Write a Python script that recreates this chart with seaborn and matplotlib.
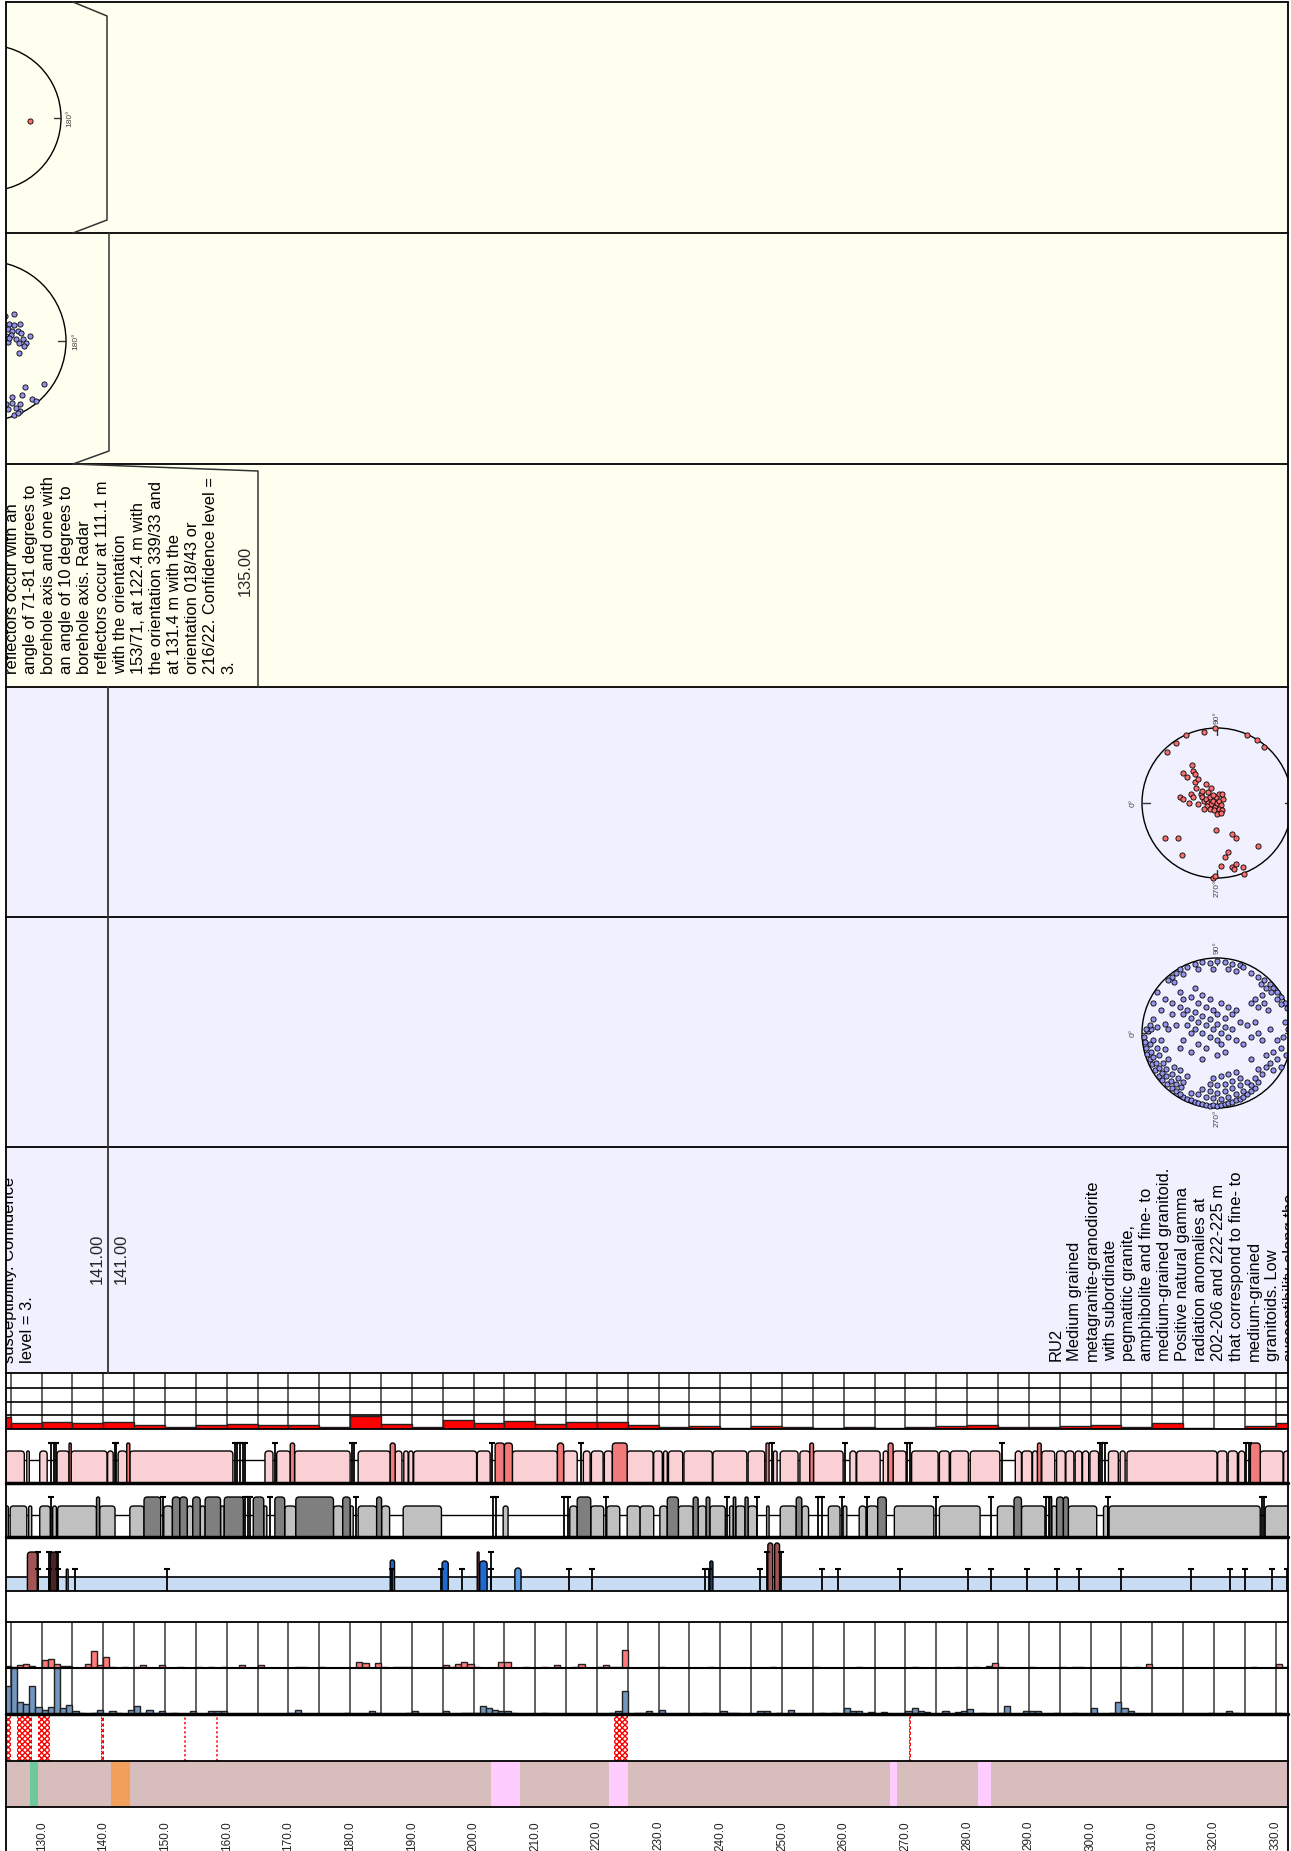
import numpy as np
import pandas as pd
import matplotlib.pyplot as plt
import seaborn as sns
from matplotlib.patches import FancyBboxPatch, Circle, Rectangle

W, H = 1291, 1851
D0, D1 = 124.23, 332.0
PXM = (1288 - 6) / (D1 - D0)

depth_ticks = list(range(130, 331, 10))

panel3_lines = ["reflectors occur with an", "angle of 71-81 degrees to", "borehole axis and one with",
                "an angle of 10 degrees to", "borehole axis. Radar", "reflectors occur at 111.1 m",
                "with the orientation", "153/71, at 122.4 m with", "the orientation 339/33 and",
                "at 131.4 m with the", "orientation 018/43 or", "216/22. Confidence level =", "3."]
panel6_left = ["susceptibility. Confidence", "level = 3."]
ru2_lines = ["RU2", "Medium grained", "metagranite-granodiorite", "with subordinate",
             "pegmatitic granite,", "amphibolite and fine- to", "medium-grained granitoid.",
             "Positive natural gamma", "radiation anomalies at", "202-206 and 222-225 m",
             "that correspond to fine- to", "medium-grained", "granitoids. Low",
             "susceptibility along the"]

# 5 m interval bars (top grid track)
grid_start = list(range(120, 331, 5))
grid_vals = [12, 6, 7, 6, 7, 4, 2, 4, 5, 4, 4, 2, 13, 5, 2, 9, 6, 8, 5, 7, 7, 4, 2, 3, 1, 3,
             2, 1, 2, 1, 2, 3, 4, 2, 2, 3, 4, 2, 6, 1, 0.5, 3, 6]

# fracture class boxes, pink track
pink_boxes = [(124.2, 127.2), (127.6, 128.0), (129.7, 130.9), (132.5, 134.45), (134.8, 140.6),
              (140.7, 141.6), (142.4, 143.8), (144.3, 161.0), (166.2, 167.5), (168.1, 170.3),
              (171.0, 180.0), (181.3, 186.5), (187.3, 188.4), (188.7, 189.4), (189.5, 190.2),
              (190.3, 200.5), (200.6, 202.7), (206.3, 213.6), (214.6, 216.8), (217.8, 218.9),
              (219.1, 221.0), (221.2, 222.5), (224.9, 229.1), (229.2, 230.6), (230.8, 231.4),
              (231.6, 233.9), (234.1, 238.7), (238.8, 244.3), (244.5, 247.2), (248.6, 249.2),
              (249.7, 252.6), (252.9, 254.5), (255.1, 259.9), (261.0, 262.0), (262.1, 265.9),
              (266.4, 267.2), (268.0, 270.1), (271.0, 275.3), (275.5, 277.1), (277.3, 280.2),
              (280.5, 285.3), (287.8, 288.8), (288.9, 290.5), (290.6, 291.4), (292.1, 294.2),
              (294.5, 295.9), (296.0, 297.3), (297.5, 298.6), (298.7, 299.7), (299.9, 301.3),
              (302.9, 304.5), (304.8, 305.6), (305.9, 320.5), (320.6, 322.1), (322.3, 323.8),
              (324.0, 325.0), (327.5, 331.2), (331.3, 332.5)]
salmon_boxes = [(134.45, 134.8), (143.8, 144.3), (170.3, 171.0), (186.5, 187.3), (203.5, 205.0),
                (205.0, 206.3), (213.6, 214.6), (222.5, 224.9), (247.4, 247.9), (254.5, 255.1),
                (267.2, 268.0), (291.4, 292.0), (325.9, 327.5)]
pink_T = [131.6, 132.0, 132.3, 141.9, 142.1, 161.3, 161.7, 162.2, 162.6, 163.0, 167.8, 180.3,
          180.7, 203.0, 217.4, 248.3, 260.2, 270.3, 270.8, 285.7, 301.5, 301.9, 302.4, 325.2, 325.6]

# grey track
light_boxes = [(124.2, 124.6), (124.9, 127.6), (127.9, 128.4), (129.7, 131.4), (131.8, 132.4),
               (132.6, 138.9), (139.4, 141.9), (144.3, 146.6), (149.8, 151.2), (153.6, 154.5),
               (155.7, 156.5), (159.0, 159.6), (166.0, 166.5), (169.4, 171.2), (177.3, 178.8),
               (180.0, 180.5), (181.3, 184.3), (185.1, 186.4), (188.6, 194.8), (204.8, 205.6),
               (215.6, 216.8), (219.0, 221.1), (221.6, 223.7), (224.9, 227.0), (227.0, 229.2),
               (230.2, 231.4), (233.2, 235.6), (236.4, 237.7), (238.3, 240.8), (241.5, 242.1),
               (242.5, 244.0), (244.5, 245.9), (247.5, 247.9), (249.7, 252.3), (253.2, 254.3),
               (257.5, 259.4), (259.9, 260.5), (262.5, 263.6), (263.8, 265.5), (268.2, 274.6),
               (275.5, 282.1), (284.9, 287.6), (288.8, 292.6), (293.7, 294.5), (296.4, 301.0),
               (302.1, 302.8), (303.0, 327.5), (328.3, 332.5)]
dark_boxes = [(138.9, 139.4), (146.6, 149.3), (151.2, 152.4), (152.4, 153.6), (154.5, 155.7),
              (156.5, 159.0), (159.6, 162.7), (164.3, 166.0), (167.8, 169.4), (171.2, 177.3),
              (178.8, 180.0), (184.3, 185.1), (216.8, 219.0), (231.4, 233.2), (235.6, 236.4),
              (237.7, 238.3), (242.1, 242.5), (244.0, 244.5), (252.3, 253.2), (265.5, 266.9),
              (287.6, 288.8), (293.4, 293.7), (294.5, 295.6), (295.6, 296.4)]
gray_T = [131.6, 149.6, 163.0, 163.4, 163.8, 167.0, 180.9, 203.2, 203.6, 214.6, 215.3, 221.4,
          241.1, 246.0, 255.9, 256.4, 259.7, 263.7, 275.0, 283.8, 292.8, 293.2, 302.9, 327.8, 328.1]

# blue track spikes: start, end, height, kind
spike_start = [127.7, 131.4, 134.0, 186.5, 194.9, 200.6, 201.0, 206.7, 238.3, 247.7, 248.8]
spike_end = [129.3, 132.5, 134.3, 187.2, 195.9, 200.9, 202.2, 207.7, 238.8, 248.5, 249.6]
spike_height = [39, 39, 22, 31, 30, 39, 30, 23, 30, 48, 48]
spike_kind = ["brown", "darkbrown", "lightblue", "blue", "blue", "brown", "blue", "lightblue",
              "navy", "brown", "brown"]
blue_T = [129.4, 131.2, 132.7, 135.4, 150.3, 186.8, 194.8, 198.1, 202.8, 215.4, 219.2, 237.5,
          238.1, 246.4, 256.5, 259.0, 269.1, 280.1, 283.9, 289.7, 294.6, 298.1, 305.0, 316.3,
          322.6, 325.0, 329.4, 331.8]
blue_T_tall = [129.4, 131.2, 132.7, 202.8, 247.5, 249.8]

# 1 m histograms
redh_depth = [124, 125, 126, 127, 128, 130, 131, 132, 133, 134, 137, 138, 139, 140, 141, 143, 145,
              146, 149, 152, 155, 157, 159, 162, 165, 171, 172, 175, 181, 182, 184, 185, 187, 188,
              189, 195, 196, 197, 198, 199, 200, 204, 205, 208, 211, 213, 216, 217, 220, 221, 222,
              223, 224, 230, 238, 248, 255, 262, 271, 278, 281, 283, 284, 285, 290, 295, 297, 298,
              305, 307, 309, 326, 330, 331]
redh_count = [2, 1, 3, 4, 2, 8, 9, 4, 2, 2, 4, 17, 3, 11, 1, 1, 1, 3, 3, 1, 1, 1, 1, 3, 3, 1, 1,
              1, 6, 5, 5, 1, 1, 1, 1, 3, 1, 4, 6, 4, 1, 6, 6, 1, 1, 3, 1, 4, 1, 3, 1, 1, 18, 1, 1,
              1, 1, 1, 1, 1, 1, 2, 5, 1, 1, 1, 1, 1, 1, 1, 4, 1, 4, 1]
blueh_depth = [124, 125, 126, 127, 128, 129, 130, 131, 132, 133, 134, 135, 136, 138, 139, 141,
               142, 144, 145, 146, 147, 148, 149, 151, 154, 157, 158, 159, 170, 171, 179, 183,
               184, 189, 190, 195, 198, 199, 200, 201, 202, 203, 204, 205, 206, 211, 222, 223,
               224, 226, 227, 228, 230, 237, 240, 241, 242, 246, 247, 249, 251, 256, 258, 260,
               261, 262, 264, 266, 270, 271, 272, 273, 276, 278, 279, 280, 282, 285, 286, 289,
               290, 291, 294, 297, 300, 303, 304, 305, 306, 319, 322, 323, 330]
blueh_count = [28, 46, 12, 10, 28, 7, 4, 7, 46, 6, 9, 3, 1, 1, 4, 3, 1, 4, 8, 1, 4, 1, 3, 1, 3,
               3, 3, 3, 1, 4, 1, 3, 1, 1, 3, 3, 1, 1, 1, 8, 6, 4, 3, 3, 1, 1, 1, 3, 23, 1, 1, 3,
               4, 1, 3, 1, 1, 3, 3, 1, 4, 1, 1, 6, 3, 3, 2, 2, 3, 6, 3, 2, 3, 2, 3, 5, 1, 1, 8,
               3, 3, 3, 1, 1, 6, 1, 12, 6, 3, 1, 3, 1, 1]

hatch_spans = [(124.2, 125.1), (126.0, 128.5), (129.4, 131.4), (222.8, 225.0)]
zigzag_lines = [139.9, 270.7]
dotted_lines = [153.2, 158.5]

rock_bands = [(128.1, 129.4, "green"), (141.2, 144.3, "orange"), (202.8, 207.6, "pink"),
              (222.0, 225.0, "pink"), (267.5, 268.6, "pink"), (281.8, 283.8, "pink")]

# stereonet poles, percent of net radius (x right, y up)
net1_pts = [(58, -4)]
net2_pts = [(24, 31), (35, 34), (29, 21), (35, 20), (42, 21), (27, 15), (33, 13), (40, 13), (44, 10),
            (25, 6), (31, 7), (38, 2), (46, 2), (50, -2), (27, -1), (41, -2), (55, 6), (41, -15),
            (47, -6), (29, 4), (73, -54), (49, -58), (45, -67), (33, -70), (58, -72), (63, -75),
            (25, -79), (33, -77), (43, -79), (38, -84), (43, -87), (35, -92), (40, -90), (28, -85)]
net4_pts = [(-45, 40), (-40, 35), (-32, 42), (-30, 28), (-28, 20), (-25, 32), (-22, 12), (-20, 8),
            (-18, 3), (-15, 5), (-12, 0), (-10, 8), (-8, -2), (-5, 3), (-3, -5), (0, 0), (3, 2),
            (5, -3), (8, 5), (-2, 8), (-6, 10), (-14, -4), (-10, -8), (-4, -10), (2, -8), (6, -10),
            (-12, 14), (-20, 16), (-35, 12), (-50, 8), (-45, 5), (-38, 0), (-32, 8), (-26, -2),
            (-18, -8), (0, -15), (5, -14), (2, 12), (7, 12), (-8, 20), (-15, 25), (-33, 50),
            (-30, 38), (-3, 100), (-42, 91), (-55, 80), (-67, 68), (40, 91), (53, 84), (63, 75),
            (-17, 95), (-70, -47), (-52, -47), (-47, -70), (-2, -36), (20, -42), (25, -47),
            (15, -65), (10, -72), (5, -84), (20, -85), (25, -82), (22, -88), (35, -85), (36, -95),
            (-5, -100), (55, -57), (-3, -98)]
net5_pts = [(-45, -85), (-40, -88), (-35, -90), (-30, -92), (-25, -93), (-20, -95), (-15, -96),
            (-10, -97), (-5, -96), (0, -97), (5, -96), (10, -95), (15, -94), (20, -92), (25, -90),
            (30, -88), (35, -85), (40, -82), (45, -78), (50, -74), (-35, -80), (-25, -82),
            (-15, -85), (-5, -87), (5, -88), (15, -85), (25, -82), (35, -78), (45, -70), (55, -66),
            (-20, -75), (-10, -78), (0, -80), (10, -78), (20, -74), (30, -70), (40, -66), (50, -60),
            (-10, -68), (0, -70), (10, -68), (20, -64), (30, -60), (15, -55), (5, -58), (25, -52),
            (-5, -60), (60, -55), (65, -45), (55, -48), (-97, -5), (-96, -12), (-95, -20),
            (-93, -28), (-90, -35), (-87, -42), (-83, -50), (-78, -57), (-73, -63), (-67, -68),
            (-60, -73), (-55, -78), (-50, -82), (-90, -15), (-88, -25), (-85, -32), (-82, -40),
            (-78, -47), (-73, -53), (-68, -58), (-62, -64), (-55, -68), (-48, -72), (-85, -10),
            (-80, -20), (-78, -30), (-72, -40), (-68, -48), (-60, -55), (-52, -60), (-45, -65),
            (-75, -10), (-70, -22), (-65, -35), (-58, -45), (-50, -50), (-40, -58), (-92, 2),
            (-88, 5), (-95, 5), (-90, 10), (-85, 18), (-80, 8), (-70, 12), (-75, 30), (-60, 25),
            (-65, 5), (-50, 35), (-45, 25), (-40, 30), (-35, 20), (-30, 28), (-25, 15), (-20, 22),
            (-15, 10), (-10, 18), (-5, 5), (0, 12), (5, 0), (10, 8), (15, -5), (20, 5), (25, -10),
            (-30, 5), (-20, 0), (-10, -5), (0, -10), (-40, 10), (-35, 0), (-25, -15), (-15, -20),
            (5, -15), (10, 20), (-5, 30), (-15, 35), (-25, 40), (0, 25), (20, 25), (25, 30),
            (30, 15), (-45, 45), (-35, 48), (-20, 50), (-10, 45), (5, 40), (15, 35), (-50, 55),
            (-30, 60), (0, -30), (-20, -35), (-35, -25), (-45, -10), (10, -25), (45, 80), (55, 75),
            (62, 70), (70, 65), (75, 60), (80, 55), (85, 48), (90, 40), (93, 33), (72, 55),
            (65, 60), (58, 65), (80, 45), (85, 38), (60, 50), (50, 45), (45, 40), (55, 35),
            (62, 40), (68, 30), (-50, 85), (-55, 80), (-45, 78), (-40, 88), (-30, 92), (-20, 95),
            (-10, 93), (0, 96), (10, 95), (20, 92), (30, 90), (-25, 85), (-5, 85), (15, 85),
            (25, 82), (35, 88), (-60, 75), (-65, 70), (-58, 68), (-80, 55), (-85, 40), (90, 15),
            (95, 5), (88, -5), (80, -10), (85, -20), (75, -25), (92, -30), (70, -40), (65, -30),
            (80, -35), (60, -10), (70, 5), (55, 0), (45, -5), (40, 10), (50, 15), (35, -15),
            (45, -35), (75, -50), (85, -45), (-60, 40), (-70, 45), (-55, 10), (-50, -20)]

# ---------------- drawing ----------------
sns.set_style("white")
plt.rcParams["font.family"] = ["Liberation Sans", "DejaVu Sans"]
plt.rcParams["hatch.linewidth"] = 1.0
plt.rcParams["hatch.color"] = "red"

fig = plt.figure(figsize=(W / 100, H / 100), dpi=100)


def px_axes(x0, y0, x1, y1, z=1):
    return fig.add_axes([x0 / W, 1 - y1 / H, (x1 - x0) / W, (y1 - y0) / H], zorder=z)


# text / stereonet panels
panels = [(2, 233, "#FFFFF0"), (233, 464, "#FFFFF0"), (464, 687, "#FFFFF0"),
          (687, 917, "#F0F0FE"), (917, 1147, "#F0F0FE"), (1147, 1373, "#F0F0FE")]
pax = []
for y0, y1, c in panels:
    ax = px_axes(6, y0, 1288, y1, z=0)
    ax.set_xlim(6, 1288)
    ax.set_ylim(y1, y0)
    ax.set_facecolor(c)
    ax.set_xticks([])
    ax.set_yticks([])
    for s in ax.spines.values():
        s.set_visible(False)
    pax.append(ax)

FS = 11.9
tkw = dict(rotation=90, rotation_mode="anchor", ha="left", va="top", fontsize=FS,
           linespacing=1.25, clip_on=True, color="black")
pax[2].text(5, 674, "\n".join(panel3_lines), **tkw)
pax[2].text(245, 571, "135.00", rotation=90, rotation_mode="anchor", ha="center",
            va="center", fontsize=FS)
pax[5].text(2, 1363, "\n".join(panel6_left), **tkw)
pax[5].text(97.5, 1284, "141.00", rotation=90, rotation_mode="anchor", ha="left",
            va="center", fontsize=FS)
pax[5].text(121.5, 1284, "141.00", rotation=90, rotation_mode="anchor", ha="left",
            va="center", fontsize=FS)
pax[5].text(1049, 1361, "\n".join(ru2_lines), **tkw)


def stereonet(cx, cy, r, pts, color):
    ax = px_axes(cx - r, cy - r, cx + r, cy + r, z=2)
    ax.set_xlim(-1, 1)
    ax.set_ylim(-1, 1)
    ax.axis("off")
    ax.add_patch(Circle((0, 0), 1, fill=False, ec="black", lw=1, clip_on=False))
    for lab, (dx, dy) in {"0°": (-1, 0), "90°": (0, 1), "180°": (1, 0), "270°": (0, -1)}.items():
        ax.plot([dx, dx * 0.9], [dy, dy * 0.9], color="#333333", lw=1, clip_on=False)
        ax.text(dx * 1.12, dy * 1.14, lab, rotation=90, ha="center", va="center",
                fontsize=6, color="#444444", clip_on=False)
    pdf = pd.DataFrame(pts, columns=["u", "v"]) / 100.0
    sns.scatterplot(data=pdf, x="u", y="v", color=color, edgecolor="black", linewidth=0.6,
                    s=14, ax=ax, legend=False, zorder=3, clip_on=False)
    ax.set_xlim(-1, 1)
    ax.set_ylim(-1, 1)
    ax.axis("off")


stereonet(-12, 118, 73, net1_pts, "#FA7070")
stereonet(-14, 341, 80, net2_pts, "#9494EE")
stereonet(1217, 803, 75, net4_pts, "#FA7070")
stereonet(1217, 1033, 75, net5_pts, "#9494EE")


# depth tracks
def track(y0, y1):
    ax = px_axes(6, y0, 1288, y1, z=1)
    ax.set_xlim(D0, D1)
    ax.set_ylim(0, y1 - y0)
    ax.axis("off")
    return ax


def boxes(ax, ivals, top, color):
    for a, b in ivals:
        r = min(0.55, (b - a) / 2)
        ax.add_patch(FancyBboxPatch((a, -8), b - a, top + 8,
                                    boxstyle=f"round,pad=0,rounding_size={r}",
                                    mutation_aspect=PXM, fc=color, ec="black", lw=1, zorder=2))


def tmarks(ax, ts, top):
    ax.vlines(ts, 0, top, color="black", lw=1.3, zorder=3)
    ax.plot(ts, [top] * len(ts), ls="none", marker="_", ms=4, mew=1.5, color="black", zorder=3)


def hist(ax, depth, vals, step, color):
    hdf = pd.DataFrame({"depth": np.asarray(depth, dtype=float) + step / 2,
                        "count": np.asarray(vals, dtype=float)})
    sns.histplot(data=hdf, x="depth", weights="count", binwidth=step, binrange=(120, 335),
                 color=color, edgecolor="#222222", linewidth=1, alpha=1, ax=ax, zorder=2)


five_m = list(range(125, 331, 5))

ax = track(1373, 1429)
for d in five_m:
    ax.axvline(d, color="#555555", lw=1.3, zorder=1)
for yy in (13.75, 27.5, 41.25):
    ax.axhline(yy, color="black", lw=1.2, zorder=1)
hist(ax, grid_start, grid_vals, 5, "#FF0000")
ax.set_xlim(D0, D1)
ax.set_ylim(0, 56)
ax.axis("off")

ax = track(1429, 1483)
ax.axhline(23, color="black", lw=1)
boxes(ax, pink_boxes, 32, "#FBD0D4")
boxes(ax, salmon_boxes, 40, "#F27A7A")
tmarks(ax, pink_T, 40)

ax = track(1483, 1537)
ax.axhline(22, color="black", lw=1)
boxes(ax, light_boxes, 31, "#C0C0C0")
boxes(ax, dark_boxes, 40, "#7F7F7F")
tmarks(ax, gray_T, 40)

ax = track(1537, 1591)
ax.add_patch(Rectangle((D0 - 1, 0), D1 - D0 + 2, 14, fc="#C8DCF4", ec="none", zorder=1))
ax.axhline(14, color="black", lw=1.2, zorder=1)
kind_col = {"brown": "#A35555", "darkbrown": "#4A2424", "lightblue": "#5C9CE6",
            "blue": "#1E6AD0", "navy": "#1F3F6A"}
for a, b, h, k in zip(spike_start, spike_end, spike_height, spike_kind):
    boxes(ax, [(a, b)], h, kind_col[k])
tmarks(ax, blue_T, 22)
tmarks(ax, blue_T_tall, 39)

ax = track(1622, 1668)
for d in five_m:
    ax.axvline(d, color="#555555", lw=1.3, zorder=1)
hist(ax, redh_depth, redh_count, 1, "#FF7B7B")
ax.set_xlim(D0, D1)
ax.set_ylim(0, 46)
ax.axis("off")

ax = track(1668, 1714)
for d in five_m:
    ax.axvline(d, color="#555555", lw=1.3, zorder=1)
hist(ax, blueh_depth, blueh_count, 1, "#7396BE")
ax.set_xlim(D0, D1)
ax.set_ylim(0, 46)
ax.axis("off")

ax = track(1714, 1761)
for a, b in hatch_spans:
    ax.axvspan(a, b, fc="none", ec="red", hatch="xxxxxx", lw=0)
for d in zigzag_lines:
    ax.axvspan(d - 0.2, d + 0.2, fc="none", ec="red", hatch="xxxxxx", lw=0)
for d in dotted_lines:
    ax.axvline(d, color="red", ls=(0, (1.5, 1.5)), lw=1.1)

ax = px_axes(6, 1761, 1288, 1807, z=1)
ax.set_xlim(D0, D1)
ax.set_ylim(0, 1)
ax.add_patch(Rectangle((D0 - 1, 0), D1 - D0 + 2, 1, fc="#D8BDBD", ec="none"))
band_col = {"green": "#6CC99C", "orange": "#F0A05A", "pink": "#FFCCFF"}
for a, b, k in rock_bands:
    ax.axvspan(a, b, fc=band_col[k], ec="none")
for s in ax.spines.values():
    s.set_visible(False)
ax.set_yticks([])
ax.set_xticks(depth_ticks)
ax.set_xticklabels([f"{d:.1f}" for d in depth_ticks])
ax.tick_params(axis="x", length=0, pad=10, labelsize=8.5, labelrotation=90, labelcolor="#222222")

# frame, separators and callout outlines
ov = fig.add_axes([0, 0, 1, 1], zorder=10)
ov.set_xlim(0, W)
ov.set_ylim(H, 0)
ov.axis("off")
ov.patch.set_alpha(0)
ov.add_patch(Rectangle((0, 0), 6, H, fc="white", ec="none"))
ov.add_patch(Rectangle((1288, 0), 4, H, fc="white", ec="none"))
ov.add_patch(Rectangle((0, 0), W, 2, fc="white", ec="none"))
ov.plot([6, 6], [2, H], color="black", lw=1.3)
ov.plot([1288, 1288], [2, H], color="black", lw=1.3)
ov.plot([6, 1288], [2, 2], color="black", lw=1.3)
for y, lw in [(233, 1.3), (464, 1.3), (687, 1.3), (917, 1.3), (1147, 1.3), (1373, 1.3),
              (1429, 1.3), (1483, 2.5), (1537, 2.5), (1591, 1.3), (1622, 1.3), (1668, 1.5),
              (1714, 2.5), (1761, 1.3), (1807, 1.3)]:
    ov.plot([6, 1288], [y, y], color="black", lw=lw)
ov.plot([108, 108], [687, 1373], color="#333333", lw=1.3)
ov.plot([73, 107, 107, 73], [2, 16, 220, 233], color="#333333", lw=1.1)
ov.plot([109, 109, 73], [233, 451, 464], color="#333333", lw=1.1)
ov.plot([73, 258, 258], [464, 471, 687], color="#333333", lw=1.1)

fig.savefig("out.png", dpi=100)
